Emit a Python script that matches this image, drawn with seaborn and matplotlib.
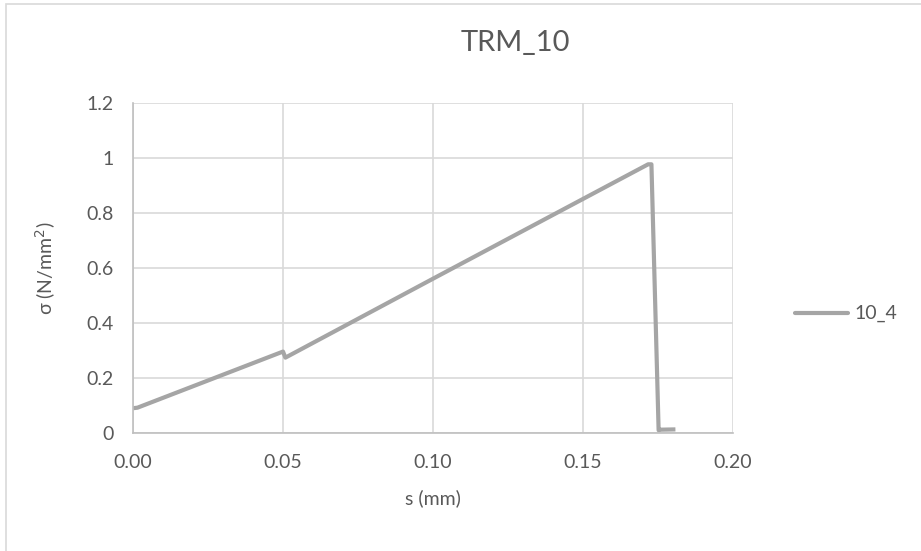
import matplotlib
matplotlib.use("Agg")
import matplotlib.pyplot as plt
from matplotlib.patches import Rectangle
import seaborn as sns
import pandas as pd

# Displacement s (mm) and stress sigma (N/mm^2) for specimen 10_4
s_mm = [0.000, 0.0015, 0.0500, 0.0508, 0.1000, 0.1717, 0.1728, 0.1752, 0.1760, 0.1808]
sigma = [0.090, 0.092, 0.296, 0.274, 0.561, 0.977, 0.977, 0.010, 0.012, 0.013]
series_name = "10_4"

x_ticks = [0.00, 0.05, 0.10, 0.15, 0.20]
y_ticks = [0, 0.2, 0.4, 0.6, 0.8, 1, 1.2]
y_tick_labels = ["0", "0.2", "0.4", "0.6", "0.8", "1", "1.2"]

df = pd.DataFrame({"s": s_mm, "sigma": sigma, "series": series_name})

sns.set_theme(style="white")
plt.rcParams["font.family"] = ["Lato", "DejaVu Sans"]

text_col = "#595959"
grid_col = "#d9d9d9"
axis_col = "#bfbfbf"
line_col = "#a5a5a5"

fig = plt.figure(figsize=(9.21, 5.51), dpi=100)
ax = fig.add_axes([0.1444, 0.2142, 0.6515, 0.5989])

sns.lineplot(data=df, x="s", y="sigma", hue="series", palette=[line_col],
             linewidth=3.0, sort=False, estimator=None, ax=ax, legend=False,
             solid_joinstyle="round", solid_capstyle="butt")

ax.set_xlim(0, 0.20)
ax.set_ylim(0, 1.2)
ax.set_xticks(x_ticks)
ax.set_xticklabels([f"{v:.2f}" for v in x_ticks])
ax.set_yticks(y_ticks)
ax.set_yticklabels(y_tick_labels)
ax.grid(True, color=grid_col, linewidth=1.2)
ax.set_axisbelow(True)

for side in ["top", "right"]:
    ax.spines[side].set_visible(False)
for side in ["left", "bottom"]:
    ax.spines[side].set_color(axis_col)
    ax.spines[side].set_linewidth(1.2)

ax.tick_params(axis="x", length=0, labelsize=14, labelcolor=text_col, pad=15)
ax.tick_params(axis="y", length=0, labelsize=14, labelcolor=text_col, pad=14)
ax.set_xlabel("s (mm)", fontsize=14, color=text_col, labelpad=13)
ax.set_ylabel("σ (N/mm$^2$)", fontsize=14, color=text_col, labelpad=20)

fig.text(515 / 921, 1 - 43 / 551, "TRM_10", ha="center", va="center",
         fontsize=21, color=text_col)

# Legend entry to the right of the plot area
lx0, lx1, ly = 795 / 921, 848 / 921, 1 - 313 / 551
fig.add_artist(plt.Line2D([lx0, lx1], [ly, ly], transform=fig.transFigure,
                          color=line_col, linewidth=3.0))
fig.text(854 / 921, ly, series_name, ha="left", va="center",
         fontsize=14, color=text_col)

# Chart area border
fig.add_artist(Rectangle((6 / 921, -0.01), 1.02, 1 - 4 / 551 + 0.01,
                         transform=fig.transFigure, fill=False,
                         edgecolor="#d9d9d9", linewidth=1.2))

fig.savefig("out.png", dpi=100)
